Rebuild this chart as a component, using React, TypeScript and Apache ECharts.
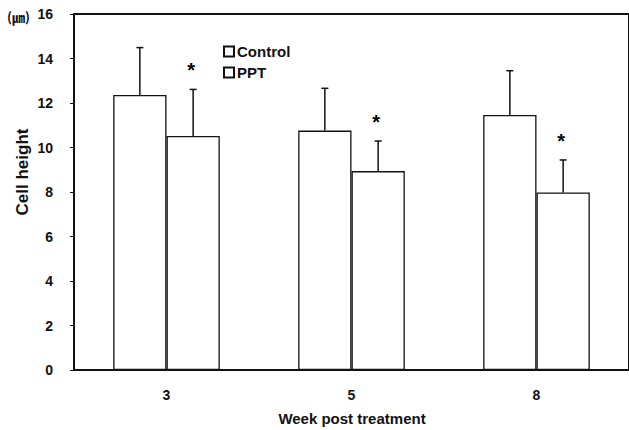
import React, { useEffect, useRef } from 'react';
import * as echarts from 'echarts';

const weeks = ['3', '5', '8'];
const controlMean = [12.36, 10.76, 11.46];
const controlSD = [2.13, 1.9, 1.99];
const pptMean = [10.52, 8.94, 7.98];
const pptSD = [2.09, 1.35, 1.46];
const significant = [true, true, true];
const seriesNames = ['Control', 'PPT'];

const BAR_W = 53.3;
const FONT = 'Liberation Sans, Arial, sans-serif';

function errorSeries(means: number[], sds: number[], side: number, stars: boolean[] | null) {
  return {
    type: 'custom',
    silent: true,
    z: 5,
    data: means.map((m, i) => [i, m, m + sds[i]]),
    renderItem: (params: any, api: any) => {
      const i = api.value(0);
      const base = api.coord([i, api.value(1)]);
      const top = api.coord([i, api.value(2)]);
      const x = base[0] + (side * BAR_W) / 2;
      const children: any[] = [
        { type: 'line', shape: { x1: x, y1: base[1], x2: x, y2: top[1] }, style: { stroke: '#111', lineWidth: 1.5 } },
        { type: 'line', shape: { x1: x - 3.5, y1: top[1], x2: x + 3.5, y2: top[1] }, style: { stroke: '#111', lineWidth: 1.5 } },
      ];
      if (stars && stars[i]) {
        children.push({
          type: 'text',
          x: x - 2,
          y: top[1] - 19,
          style: { text: '*', fill: '#000', font: `bold 20px ${FONT}`, textAlign: 'center', textVerticalAlign: 'middle' },
        });
      }
      return { type: 'group', children };
    },
  };
}

export default function App() {
  const ref = useRef<HTMLDivElement>(null);
  useEffect(() => {
    if (!ref.current) return;
    const chart = echarts.init(ref.current, null, { renderer: 'svg' });
    const barStyle = { color: '#fff', borderColor: '#111', borderWidth: 1.3 };
    chart.setOption({
      animation: false,
      backgroundColor: '#fff',
      textStyle: { fontFamily: FONT },
      grid: { left: 74, right: -3, top: 14, bottom: 60, show: true, borderColor: '#111', borderWidth: 2, backgroundColor: 'transparent' },
      legend: {
        data: seriesNames,
        orient: 'vertical',
        left: 223,
        top: 44,
        padding: 0,
        itemWidth: 10,
        itemHeight: 10,
        itemGap: 6,
        icon: 'rect',
        textStyle: { color: '#111', fontWeight: 'bold', fontSize: 15, fontFamily: FONT, padding: [0, 0, 0, -2] },
      },
      xAxis: {
        type: 'category',
        data: weeks,
        axisLine: { lineStyle: { color: '#111', width: 2 } },
        axisTick: { show: false },
        axisLabel: { color: '#111', fontWeight: 'bold', fontSize: 14, margin: 18, fontFamily: FONT },
      },
      yAxis: {
        type: 'value',
        min: 0,
        max: 16,
        interval: 2,
        splitLine: { show: false },
        axisLine: { show: true, lineStyle: { color: '#111', width: 2 } },
        axisTick: { show: true, length: 4, lineStyle: { color: '#111', width: 1 } },
        axisLabel: { color: '#111', fontWeight: 'bold', fontSize: 14, margin: 21, fontFamily: FONT },
      },
      graphic: [
        { type: 'text', x: 7, y: 16, style: { text: '(㎛)', fill: '#111', font: `bold 13px 'Noto Sans CJK KR', ${FONT}`, textVerticalAlign: 'middle' } },
        { type: 'text', x: 22, y: 172, rotation: Math.PI / 2, style: { text: 'Cell height', fill: '#111', font: `bold 17px ${FONT}`, textAlign: 'center', textVerticalAlign: 'middle' } },
        { type: 'text', x: 352, y: 418, style: { text: 'Week post treatment', fill: '#111', font: `bold 15px ${FONT}`, textAlign: 'center', textVerticalAlign: 'middle' } },
      ],
      series: [
        { name: seriesNames[0], type: 'bar', data: controlMean, barWidth: BAR_W, barGap: '0%', itemStyle: barStyle },
        { name: seriesNames[1], type: 'bar', data: pptMean, barWidth: BAR_W, barGap: '0%', itemStyle: barStyle },
        errorSeries(controlMean, controlSD, -1, null),
        errorSeries(pptMean, pptSD, 1, significant),
      ],
    });
    return () => chart.dispose();
  }, []);
  return <div ref={ref} style={{ position: 'fixed', left: 0, top: 0, width: 629, height: 430 }} />;
}
